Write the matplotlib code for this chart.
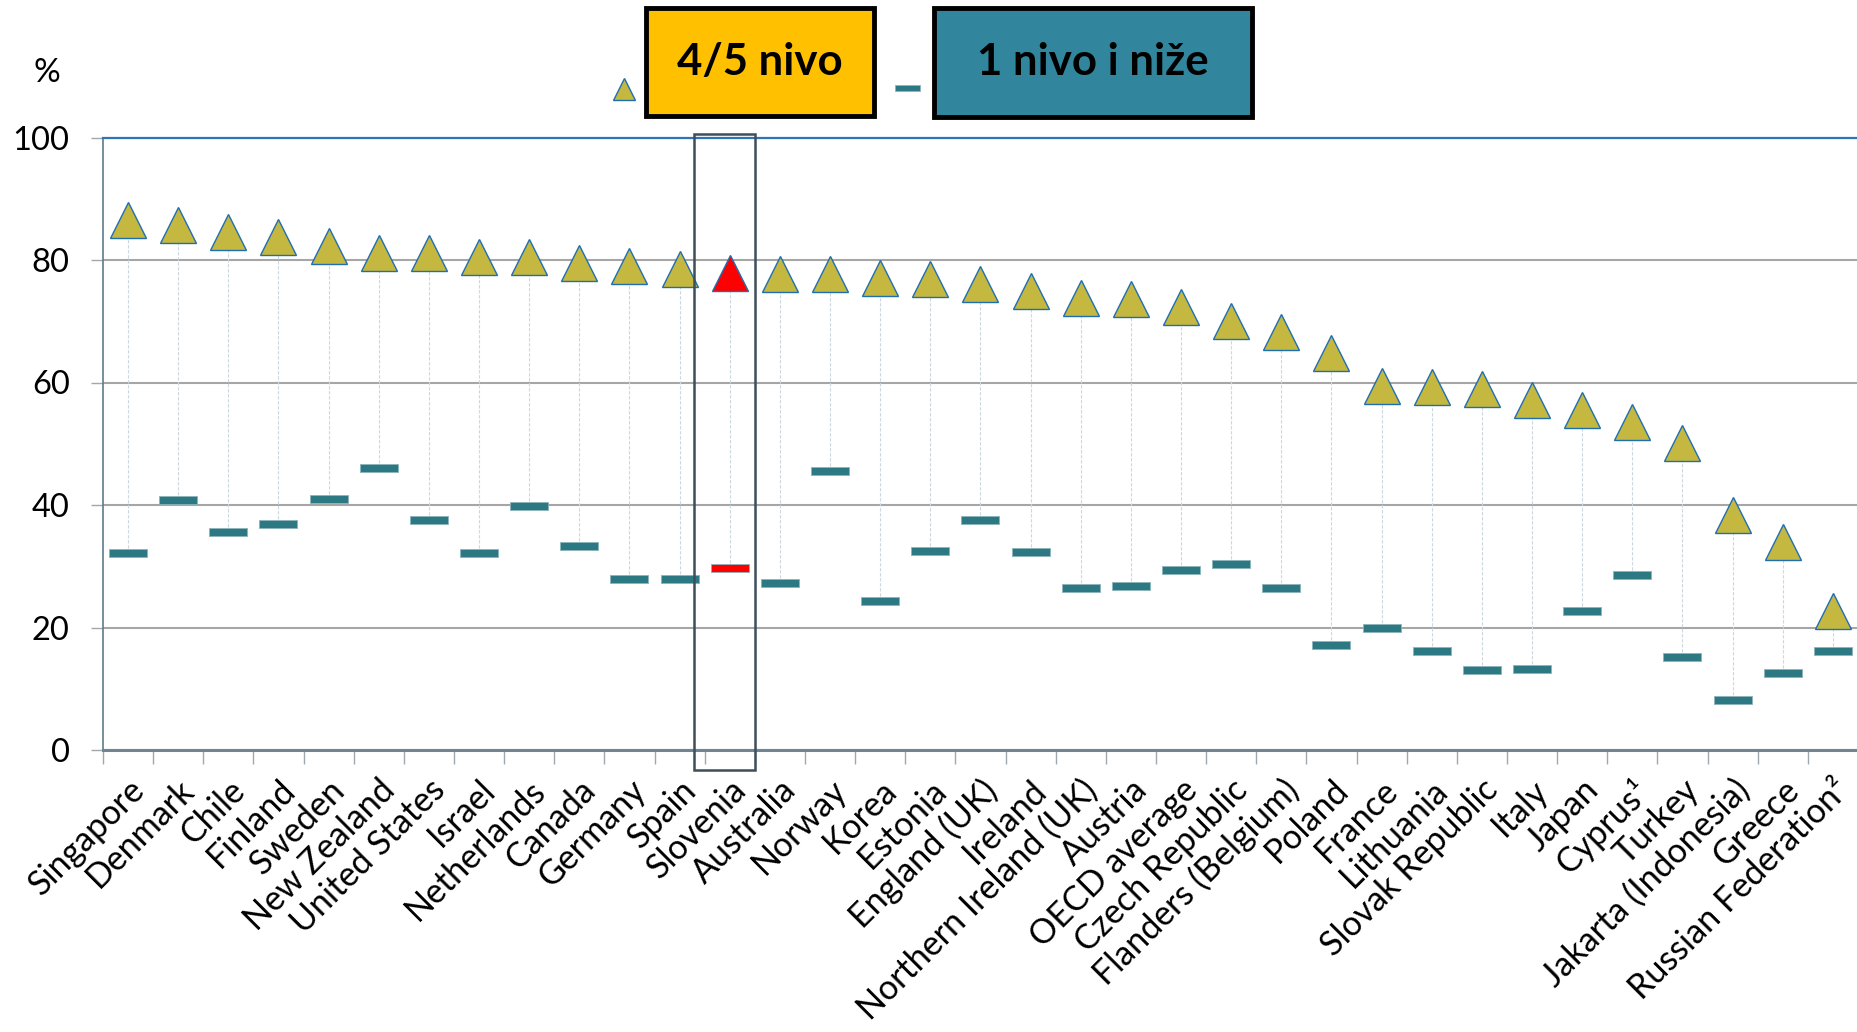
import matplotlib
matplotlib.use("Agg")
import matplotlib.pyplot as plt
from matplotlib.patches import Rectangle
from matplotlib.lines import Line2D

plt.rcParams['font.family'] = ['Lato', 'DejaVu Sans']

# data
countries = ["Singapore", "Denmark", "Chile", "Finland", "Sweden", "New Zealand",
             "United States", "Israel", "Netherlands", "Canada", "Germany", "Spain",
             "Slovenia", "Australia", "Norway", "Korea", "Estonia", "England (UK)",
             "Ireland", "Northern Ireland (UK)", "Austria", "OECD average",
             "Czech Republic", "Flanders (Belgium)", "Poland", "France", "Lithuania",
             "Slovak Republic", "Italy", "Japan", "Cyprus\u00b9", "Turkey",
             "Jakarta (Indonesia)", "Greece", "Russian Federation\u00b2"]
level45 = [86.6, 85.7, 84.6, 83.8, 82.3, 81.1, 81.1, 80.5, 80.5, 79.5, 79.0, 78.5,
           77.9, 77.7, 77.7, 77.1, 76.9, 76.1, 75.0, 73.8, 73.7, 72.4, 70.0, 68.3,
           64.8, 59.5, 59.3, 58.9, 57.1, 55.5, 53.5, 50.2, 38.3, 33.9, 22.7]
level1 = [32.2, 40.8, 35.6, 36.9, 41.0, 46.0, 37.6, 32.1, 39.9, 33.3, 27.9, 28.0,
          29.7, 27.3, 45.6, 24.3, 32.5, 37.6, 32.4, 26.5, 26.8, 29.4, 30.4, 26.4,
          17.1, 20.0, 16.2, 13.0, 13.2, 22.7, 28.5, 15.2, 8.2, 12.5, 16.2]
highlight = "Slovenia"

W, H = 1858, 1032
fig = plt.figure(figsize=(W / 100, H / 100), dpi=100)
ax = fig.add_axes([103 / W, 1 - 750 / H, 1 - 103 / W, (750 - 137.5) / H])

x = list(range(len(countries)))
hi = countries.index(highlight)

tri_col = "#C4B840"
tri_edge = "#1F6FB0"
bar_col = "#2C7883"
bar_marker = [(-1, -0.22), (1, -0.22), (1, 0.22), (-1, 0.22), (-1, -0.22)]

# high-low lines
ax.vlines(x, level1, level45, colors="#CBD8E0", linewidth=0.8,
          linestyles=(0, (3, 1.5)), zorder=2)

others = [i for i in x if i != hi]
ax.plot(others, [level1[i] for i in others], linestyle="none", marker=bar_marker,
        markersize=27.5, markerfacecolor=bar_col, markeredgecolor="#8DB4BC",
        markeredgewidth=0.6, zorder=3)
ax.plot([hi], [level1[hi]], linestyle="none", marker=bar_marker, markersize=27.5,
        markerfacecolor="#FF0000", markeredgecolor="#8DB4BC", markeredgewidth=0.6,
        zorder=3)
ax.plot(others, [level45[i] for i in others], linestyle="none", marker="^",
        markersize=26.5, markerfacecolor=tri_col, markeredgecolor=tri_edge,
        markeredgewidth=1.0, zorder=4)
ax.plot([hi], [level45[hi]], linestyle="none", marker="^", markersize=26.5,
        markerfacecolor="#FF0000", markeredgecolor=tri_edge, markeredgewidth=1.0,
        zorder=4)

# highlight frame around Slovenia
ax.add_patch(Rectangle((hi - 0.71, -3.3), 1.21, 103.9, fill=False,
                       edgecolor="#3E4F5A", linewidth=1.8, clip_on=False, zorder=5))

ax.set_xlim(-0.5, len(countries) - 0.5)
ax.set_ylim(0, 100)
ax.set_yticks(range(0, 101, 20))
ax.yaxis.grid(True, color="#A6A6A6", linewidth=1.5)
ax.set_axisbelow(True)
ax.set_xticks(x)
ax.set_xticklabels(countries, rotation=45, ha="right", va="top",
                   rotation_mode="anchor", fontsize=24.5)
ax.set_xticks([i + 0.5 for i in range(-1, len(countries))], minor=True)
ax.tick_params(axis="x", which="major", length=0, pad=17)
ax.tick_params(axis="x", which="minor", length=10, color="#A0A8AE", width=1)
ax.tick_params(axis="y", length=9, color="#A0A8AE", width=1, labelsize=23.5, pad=15)

ax.spines["right"].set_visible(False)
ax.spines["top"].set_color("#2F75B5")
ax.spines["top"].set_linewidth(1.6)
ax.spines["left"].set_color("#5F7A8A")
ax.spines["left"].set_linewidth(1.2)
ax.spines["bottom"].set_color("#6F8594")
ax.spines["bottom"].set_linewidth(2.2)

fig.text(47 / W, 1 - 73 / H, "%", fontsize=24, ha="center", va="center")

# legend boxes
def px_rect(x0, y0, x1, y1, color):
    fig.add_artist(Rectangle((x0 / W, 1 - y1 / H), (x1 - x0) / W, (y1 - y0) / H,
                             transform=fig.transFigure, facecolor=color,
                             edgecolor="black", linewidth=3.5))

px_rect(646, 8, 874, 116, "#FFC000")
px_rect(934, 8, 1252, 117, "#31859C")
fig.text(760 / W, 1 - 62 / H, "4/5 nivo", fontsize=31.5, fontweight="bold",
         ha="center", va="center")
fig.text(1093 / W, 1 - 62 / H, "1 nivo i ni\u017ee", fontsize=31.5, fontweight="bold",
         ha="center", va="center")
fig.add_artist(Line2D([624 / W], [1 - 89 / H], marker="^", markersize=16,
                      markerfacecolor=tri_col, markeredgecolor=tri_edge,
                      markeredgewidth=1.0, transform=fig.transFigure))
fig.add_artist(Line2D([907 / W], [1 - 88 / H], marker=bar_marker, markersize=18,
                      markerfacecolor=bar_col, markeredgecolor="#8DB4BC",
                      markeredgewidth=0.5, transform=fig.transFigure))

fig.savefig("out.png", dpi=100)
